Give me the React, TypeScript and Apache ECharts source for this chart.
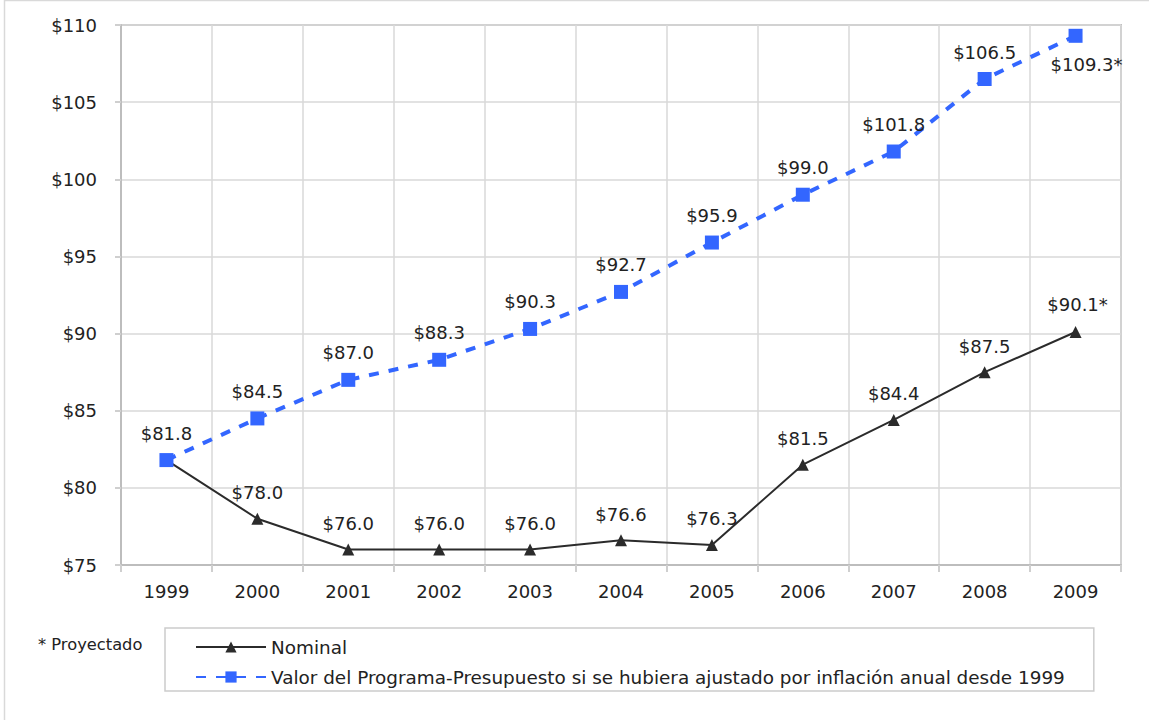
import React, { useEffect, useRef } from "react";
import * as echarts from "echarts";

const years = ["1999", "2000", "2001", "2002", "2003", "2004", "2005", "2006", "2007", "2008", "2009"];
const nominal = [81.8, 78.0, 76.0, 76.0, 76.0, 76.6, 76.3, 81.5, 84.4, 87.5, 90.1];
const adjusted = [81.8, 84.5, 87.0, 88.3, 90.3, 92.7, 95.9, 99.0, 101.8, 106.5, 109.3];
const nominalName = "Nominal";
const adjustedName = "Valor del Programa-Presupuesto si se hubiera ajustado por inflación anual desde 1999";
const footnote = "* Proyectado";

const FONT = "'DejaVu Sans', Verdana, sans-serif";
const TXT = "#222222";
const BLUE = "#3366FF";
const DARK = "#2b2b2b";
const FS = 18;

export default function App() {
  const ref = useRef<HTMLDivElement>(null);
  useEffect(() => {
    if (!ref.current) return;
    const chart = echarts.init(ref.current, undefined, { renderer: "svg" });
    const last = years.length - 1;
    const fmt = (p: any) => "$" + Number(p.value).toFixed(1) + (p.dataIndex === last ? "*" : "");

    const nominalData = nominal.map((v, i) => ({
      value: v,
      label: i === 0 ? { show: false } : i === last ? { show: true, offset: [2, -2] } : undefined,
    }));
    const adjustedData = adjusted.map((v, i) => ({
      value: v,
      label: i === last ? { show: true, position: "bottom", distance: 13, offset: [11, 0] } : undefined,
    }));

    chart.setOption({
      animation: false,
      backgroundColor: "#ffffff",
      textStyle: { fontFamily: FONT },
      grid: {
        left: 121,
        right: 28,
        top: 25,
        bottom: 155,
        show: true,
        borderColor: "#c0c0c0",
        borderWidth: 2,
        containLabel: false,
      },
      xAxis: {
        type: "category",
        data: years,
        boundaryGap: true,
        axisLine: { show: true, lineStyle: { color: "#bdbdbd", width: 2 } },
        axisTick: { show: true, length: 7, alignWithLabel: false, lineStyle: { color: "#cfcfcf", width: 2 } },
        axisLabel: { color: TXT, fontFamily: FONT, fontSize: FS, margin: 17 },
        splitLine: { show: true, interval: 0, lineStyle: { color: "#d9d9d9", width: 1.5 } },
      },
      yAxis: {
        type: "value",
        min: 75,
        max: 110,
        interval: 5,
        axisLine: { show: true, lineStyle: { color: "#bdbdbd", width: 2 } },
        axisTick: { show: true, length: 6, inside: false, lineStyle: { color: "#cfcfcf", width: 2 } },
        axisLabel: { color: TXT, fontFamily: FONT, fontSize: FS, margin: 24, formatter: (v: number) => "$" + v },
        splitLine: { show: true, lineStyle: { color: "#d9d9d9", width: 1.5 } },
      },
      legend: {
        orient: "vertical",
        left: 165,
        top: 628,
        padding: [10, 29, 5, 30],
        itemWidth: 70,
        itemHeight: 14,
        itemGap: 12,
        borderColor: "#cccccc",
        borderWidth: 1.5,
        textStyle: { color: TXT, fontFamily: FONT, fontSize: 18.4, lineHeight: 16 },
        data: [nominalName, adjustedName],
      },
      graphic: [
        {
          type: "rect",
          silent: true,
          shape: { x: 4.5, y: 0.5, width: 1300, height: 900 },
          style: { fill: "none", stroke: "#d9d9d9", lineWidth: 1.5 },
        },
        {
          type: "text",
          left: 38,
          top: 636,
          style: { text: footnote, fill: TXT, font: "16.3px " + FONT },
        },
      ],
      series: [
        {
          name: nominalName,
          type: "line",
          data: nominalData,
          symbol: "triangle",
          symbolSize: 12,
          itemStyle: { color: DARK },
          lineStyle: { color: DARK, width: 2 },
          label: {
            show: true,
            position: "top",
            distance: 11,
            color: TXT,
            fontFamily: FONT,
            fontSize: FS,
            formatter: fmt,
          },
          z: 2,
        },
        {
          name: adjustedName,
          type: "line",
          data: adjustedData,
          symbol: "rect",
          symbolSize: 14,
          itemStyle: { color: BLUE },
          lineStyle: { color: BLUE, width: 4, type: [10, 10] },
          label: {
            show: true,
            position: "top",
            distance: 11,
            color: TXT,
            fontFamily: FONT,
            fontSize: FS,
            formatter: fmt,
          },
          z: 3,
        },
      ],
    });
    return () => chart.dispose();
  }, []);

  return (
    <div
      ref={ref}
      style={{ position: "absolute", left: 0, top: 0, width: 1149, height: 720, background: "#fff" }}
    />
  );
}
